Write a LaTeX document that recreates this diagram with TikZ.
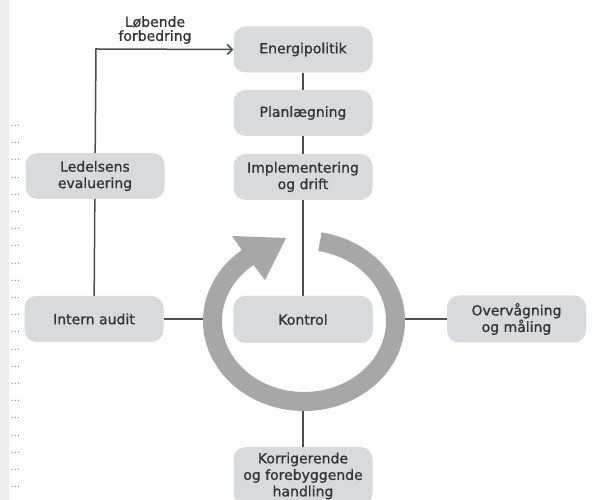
\documentclass[tikz,border=0pt]{standalone}
\usepackage{fontspec}
\setmainfont[FakeBold=0.9]{DejaVu Sans}
\newfontfamily\dotfont{DejaVu Sans}
\usetikzlibrary{calc,arrows.meta}
\definecolor{boxgrey}{HTML}{D9DADC}
\definecolor{ringgrey}{HTML}{A7A7A7}
\definecolor{linegrey}{HTML}{4D4D4D}
\definecolor{textgrey}{HTML}{333338}
\definecolor{bandgrey}{HTML}{ECECEC}
\definecolor{dotgrey}{HTML}{8A8E99}
\begin{document}
\begin{tikzpicture}[x=1pt,y=1pt,
  stage/.style={fill=boxgrey, rounded corners=12pt, minimum width=139pt,
    minimum height=46pt, inner sep=0pt, align=center, text=textgrey,
    font=\fontsize{14}{16.5}\selectfont},
  link/.style={draw=linegrey, line width=1.5pt},
  cycle ring/.style={fill=ringgrey},
]
\clip (0,0) rectangle (607,500);
\fill[white] (0,0) rectangle (607,500);

% margin band with its column of ellipses
\fill[bandgrey] (0,0) rectangle (9,500);
\foreach \i in {0,...,21}
  \node[text=dotgrey, font=\dotfont\fontsize{10}{10}\selectfont, inner sep=0pt]
    (dots\i) at (15.5, 374-17.19*\i) {...};

% the PDCA stages
\node[stage] (politik) at (303,450.5) {Energipolitik};
\node[stage] (plan)    at (303,387)   {Planlægning};
\node[stage] (impl)    at (303,323)   {Implementering\\og drift};
\node[stage, minimum height=47pt] (kontrol) at (303,180.5) {Kontrol};
\node[stage, minimum height=58pt] (korr) at (303,24) {Korrigerende\\og forebyggende\\handling};
\node[stage] (ledelse) at (95,324)    {Ledelsens\\evaluering};
\node[stage] (audit)   at (94,181)    {Intern audit};
\node[stage, minimum height=47pt] (maal) at (516.5,181) {Overvågning\\og måling};

% anchor points on the circular arrow and the feedback corner
\coordinate (C) at (304,179);
\coordinate (ringL) at (203,181);
\coordinate (ringR) at (405,181);
\coordinate (ringB) at (303,89);
\coordinate (turn) at (96,451);

% connectors
\draw[link] (politik) -- (plan);
\draw[link] (plan) -- (impl);
\draw[link] (impl) -- (kontrol);
\draw[link] (ringB) -- (korr);
\draw[link] (audit) -- (ringL);
\draw[link] (ringR) -- (maal.west |- ringR);
\draw[link] (audit) -- (ledelse);
\draw[link, -{Straight Barb[length=5pt,width=10pt,line width=1.5pt]}]
  (ledelse) -- (turn) -- (politik.west);
\node[text=textgrey, align=center, font=\fontsize{14}{14}\selectfont, inner sep=0pt]
  (loebende) at (155,470) {Løbende\\forbedring};

% circular arrow around Kontrol
\fill[cycle ring]
  ($(C)+(80:101pt and 90pt)$)
  arc[start angle=80, end angle=-232, x radius=101pt, y radius=90pt]
  -- (232,264) -- (286,262) -- (265,220)
  -- ($(C)+(128:82pt and 71pt)$)
  arc[start angle=-232, end angle=80, x radius=82pt, y radius=71pt]
  -- cycle;

\node[stage, minimum height=47pt] at (kontrol) {Kontrol};
\end{tikzpicture}
\end{document}
